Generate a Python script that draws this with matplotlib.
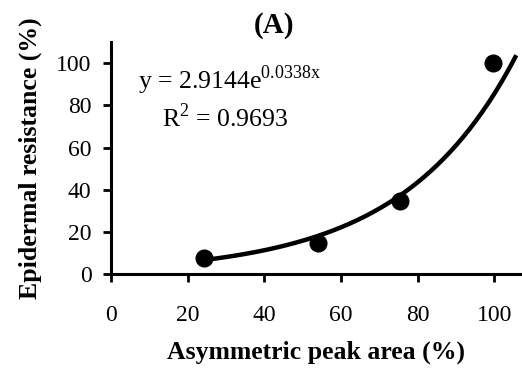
import numpy as np
import matplotlib.pyplot as plt

plt.rcParams['font.family'] = ['Liberation Serif', 'DejaVu Serif']

# measured points
peak_area = [24.3, 54, 75.5, 99.5]
resistance = [7.6, 14.7, 34.6, 100]

# exponential fit from the chart
a, b = 2.9144, 0.0338
x_fit = np.linspace(24, 105.7, 200)
y_fit = a * np.exp(b * x_fit)

fig = plt.figure(figsize=(5.22, 3.71), dpi=100)
ax = fig.add_axes([0.2126, 0.2615, 0.786, 0.625])

ax.plot(x_fit, y_fit, color='black', lw=3.2, solid_capstyle='butt')
ax.plot(peak_area, resistance, 'o', color='black', ms=12)

ax.set_xlim(0, 107)
ax.set_ylim(0, 110)
ax.set_xticks([0, 20, 40, 60, 80, 100])
ax.set_yticks([0, 20, 40, 60, 80, 100])
ax.spines['top'].set_visible(False)
ax.spines['right'].set_visible(False)
ax.spines['left'].set_linewidth(2.2)
ax.spines['bottom'].set_linewidth(2.2)
ax.tick_params(length=6, width=2, labelsize=17)
ax.tick_params(axis='y', pad=8)
ax.tick_params(axis='x', pad=16)

ax.set_xlabel('Asymmetric peak area (%)', fontsize=18.5, fontweight='bold', labelpad=11)
ax.set_ylabel('Epidermal resistance (%)', fontsize=18.5, fontweight='bold', labelpad=10)

fig.text(0.525, 0.932, '(A)', fontsize=21, fontweight='bold', ha='center', va='center')
ax.text(0.066, 0.80, r'y = 2.9144e$^{\mathregular{0.0338x}}$', transform=ax.transAxes,
        fontsize=18.5, ha='left', va='baseline')
ax.text(0.124, 0.635, r'R$^{\mathregular{2}}$ = 0.9693', transform=ax.transAxes,
        fontsize=18.5, ha='left', va='baseline')

fig.savefig('out.png', dpi=100)
